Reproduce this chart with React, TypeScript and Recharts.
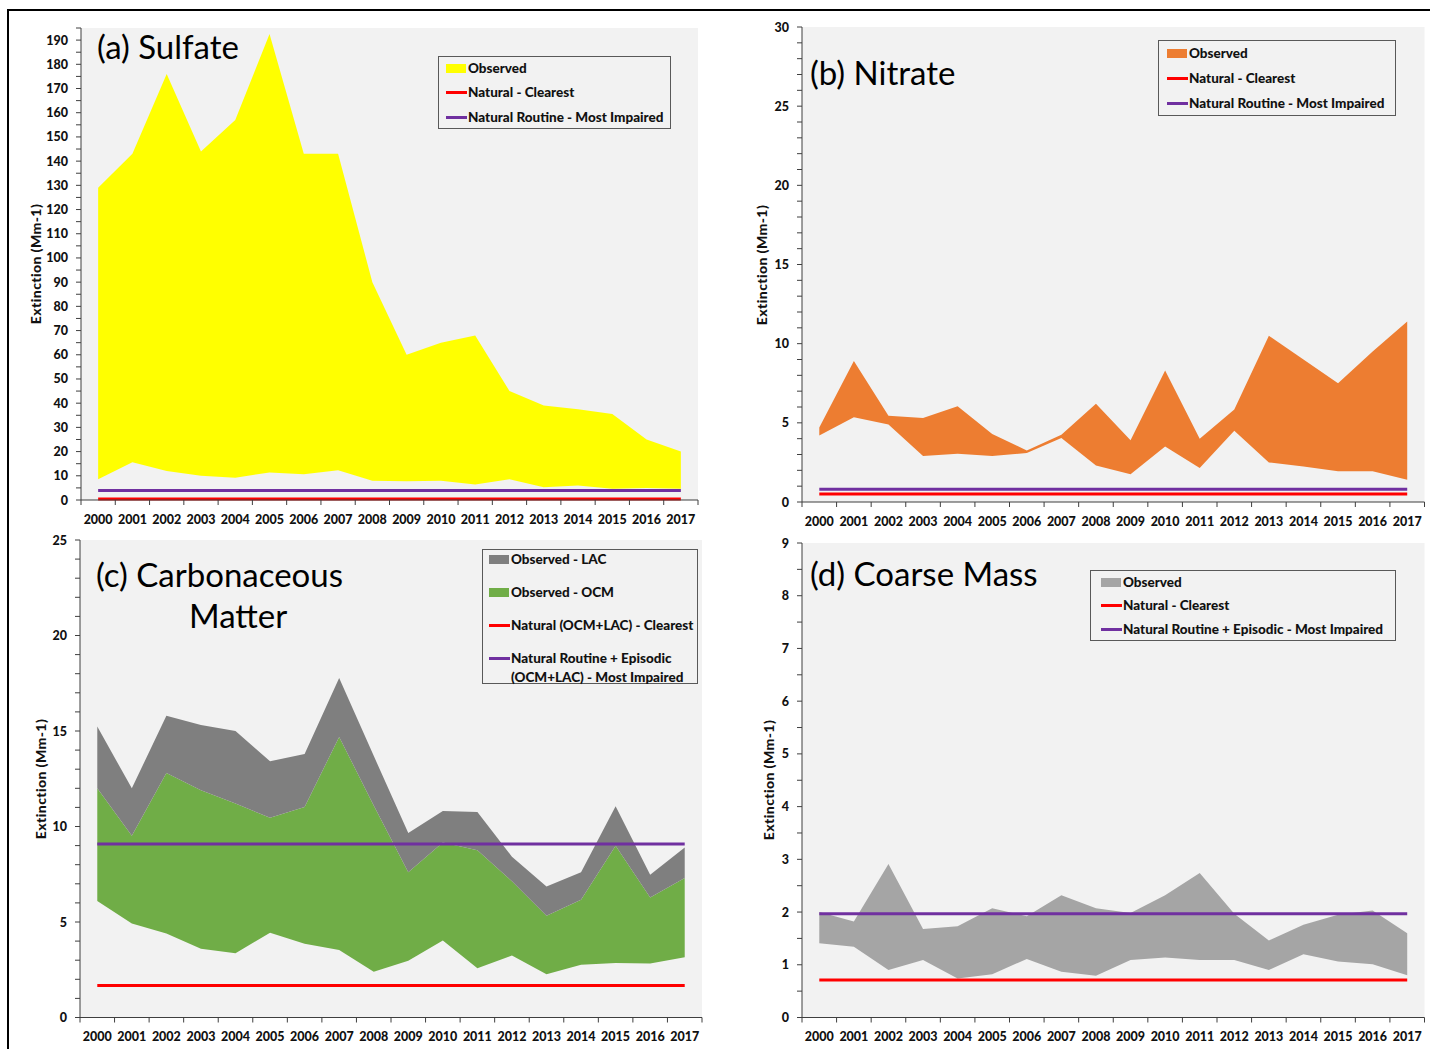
import React from 'react';
import { ComposedChart, Area, XAxis, YAxis, CartesianGrid, ReferenceLine } from 'recharts';

// categories
const years = [2000, 2001, 2002, 2003, 2004, 2005, 2006, 2007, 2008, 2009, 2010, 2011, 2012, 2013, 2014, 2015, 2016, 2017];

// (a) sulfate
const sulfateLow = [8.6, 15.6, 12, 10, 9.2, 11.4, 10.6, 12.3, 8, 7.7, 8, 6.4, 8.6, 5.3, 6, 4.6, 5, 4.6];
const sulfateHigh = [129, 143, 176, 144, 157, 192.5, 143, 143, 90, 60, 65, 68, 45, 39, 37.5, 35.5, 25, 20];
const sulfateClearest = 0.4;
const sulfateImpaired = 3.9;
const sulfateTicks = [0, 10, 20, 30, 40, 50, 60, 70, 80, 90, 100, 110, 120, 130, 140, 150, 160, 170, 180, 190];

// (b) nitrate
const nitrateLow = [4.2, 5.35, 4.9, 2.9, 3.05, 2.9, 3.1, 4.05, 2.3, 1.75, 3.5, 2.15, 4.5, 2.5, 2.25, 1.95, 1.95, 1.4];
const nitrateHigh = [4.7, 8.9, 5.45, 5.3, 6.05, 4.3, 3.25, 4.25, 6.2, 3.9, 8.3, 4.0, 5.85, 10.5, 9.0, 7.5, 9.5, 11.4];
const nitrateClearest = 0.5;
const nitrateImpaired = 0.8;
const nitrateTicks = [0, 5, 10, 15, 20, 25, 30];

// (c) carbonaceous matter
const ocmLow = [6.1, 4.92, 4.4, 3.6, 3.36, 4.44, 3.86, 3.54, 2.4, 2.97, 4.03, 2.58, 3.24, 2.26, 2.76, 2.85, 2.83, 3.15];
const ocmHigh = [12.0, 9.52, 12.8, 11.9, 11.2, 10.46, 11.02, 14.69, 11.1, 7.6, 9.16, 8.76, 7.13, 5.33, 6.16, 8.99, 6.28, 7.31];
const lacHigh = [15.23, 12.0, 15.8, 15.32, 15.0, 13.41, 13.8, 17.77, 13.7, 9.66, 10.81, 10.76, 8.42, 6.86, 7.61, 11.06, 7.48, 8.9];
const carbClearest = 1.68;
const carbImpaired = 9.08;
const carbTicks = [0, 5, 10, 15, 20, 25];

// (d) coarse mass
const coarseLow = [1.41, 1.34, 0.9, 1.09, 0.74, 0.82, 1.11, 0.87, 0.79, 1.09, 1.14, 1.09, 1.09, 0.9, 1.2, 1.06, 1.01, 0.8];
const coarseHigh = [2.0, 1.82, 2.91, 1.68, 1.73, 2.07, 1.92, 2.32, 2.07, 1.98, 2.32, 2.74, 1.97, 1.46, 1.76, 1.95, 2.03, 1.6];
const coarseClearest = 0.71;
const coarseImpaired = 1.97;
const coarseTicks = [0, 1, 2, 3, 4, 5, 6, 7, 8, 9];

const RED = '#ff0000';
const PURPLE = '#7030a0';
const AXIS = '#3f3f3f';
const FONT = 'Lato, "Open Sans", sans-serif';
const HEAVY = 900;

interface Band {
  key: string;
  low: number[];
  high: number[];
  color: string;
}

interface LegendItem {
  kind: 'rect' | 'line';
  color: string;
  label: string[];
  cy: number;
}

interface PanelProps {
  plotLeft: number;
  plotTop: number;
  plotRight: number;
  plotBottom: number;
  yMax: number;
  minorStep: number;
  majorTicks: number[];
  bands: Band[];
  clearest: number;
  impaired: number;
  yTitleX: number;
  title: React.ReactNode;
  legendBox: { left: number; top: number; right: number; bottom: number };
  swatchLeft: number;
  legendItems: LegendItem[];
}

const Panel: React.FC<PanelProps> = (p) => {
  const axisW = 80;
  const mTop = 10;
  const plotW = p.plotRight - p.plotLeft;
  const plotH = p.plotBottom - p.plotTop;
  const step = plotW / years.length;

  const rows = years.map((year, i) => {
    const row: Record<string, unknown> = { year };
    p.bands.forEach((b) => {
      row[b.key] = [b.low[i], b.high[i]];
    });
    return row;
  });

  const allTicks: number[] = [];
  for (let v = 0; v <= p.yMax + 1e-9; v += p.minorStep) allTicks.push(Math.round(v * 100) / 100);

  const XTick = (props: any) => {
    const { x, y, payload, index } = props;
    return (
      <g>
        <line x1={x - step / 2} x2={x - step / 2} y1={y} y2={y + 5} stroke={AXIS} />
        {index === years.length - 1 && (
          <line x1={x + step / 2} x2={x + step / 2} y1={y} y2={y + 5} stroke={AXIS} />
        )}
        <text x={x} y={y + 23.5} textAnchor="middle" fontFamily={FONT} fontWeight={HEAVY} fontSize={12.5} fill="#111">
          {payload.value}
        </text>
      </g>
    );
  };

  const YTick = (props: any) => {
    const { x, y, payload } = props;
    const isMajor = p.majorTicks.includes(payload.value);
    return (
      <g>
        <line x1={x - 5} x2={x} y1={y} y2={y} stroke={AXIS} />
        {isMajor && (
          <text x={x - 13} y={y + 4.5} textAnchor="end" fontFamily={FONT} fontWeight={HEAVY} fontSize={12.5} fill="#111">
            {payload.value}
          </text>
        )}
      </g>
    );
  };

  const lb = p.legendBox;

  return (
    <>
      <div style={{ position: 'absolute', left: p.plotLeft - axisW, top: p.plotTop - mTop }}>
        <ComposedChart
          width={plotW + axisW + 5}
          height={plotH + mTop + 30}
          data={rows}
          margin={{ top: mTop, right: 5, bottom: 0, left: 0 }}
        >
          <CartesianGrid fill="#f2f2f2" stroke="none" />
          <XAxis
            type="number"
            dataKey="year"
            domain={[years[0] - 0.5, years[years.length - 1] + 0.5]}
            ticks={years}
            interval={0}
            tickSize={0}
            tickMargin={0}
            height={30}
            tick={XTick}
            axisLine={{ stroke: AXIS }}
          />
          <YAxis
            type="number"
            domain={[0, p.yMax]}
            ticks={allTicks}
            interval={0}
            tickSize={0}
            tickMargin={0}
            width={axisW}
            tick={YTick}
            axisLine={{ stroke: AXIS }}
          />
          {p.bands.map((b) => (
            <Area
              key={b.key}
              type="linear"
              dataKey={b.key}
              fill={b.color}
              fillOpacity={1}
              stroke="none"
              dot={false}
              activeDot={false}
              isAnimationActive={false}
            />
          ))}
          <ReferenceLine
            segment={[{ x: years[0], y: p.clearest }, { x: years[years.length - 1], y: p.clearest }]}
            stroke={RED}
            strokeWidth={3}
          />
          <ReferenceLine
            segment={[{ x: years[0], y: p.impaired }, { x: years[years.length - 1], y: p.impaired }]}
            stroke={PURPLE}
            strokeWidth={3}
          />
        </ComposedChart>
      </div>

      <div
        style={{
          position: 'absolute',
          left: p.yTitleX,
          top: (p.plotTop + p.plotBottom) / 2,
          transform: 'translate(-50%, -50%) rotate(-90deg)',
          whiteSpace: 'nowrap',
          fontFamily: FONT,
          fontWeight: HEAVY,
          fontSize: 14,
          letterSpacing: 0.4,
          color: '#111',
        }}
      >
        Extinction (Mm-1)
      </div>

      {p.title}

      <div
        style={{
          position: 'absolute',
          left: lb.left,
          top: lb.top,
          width: lb.right - lb.left,
          height: lb.bottom - lb.top,
          boxSizing: 'border-box',
          border: '1.5px solid #595959',
          background: '#f2f2f2',
        }}
      />
      {p.legendItems.map((it, i) => (
        <React.Fragment key={i}>
          {it.kind === 'rect' ? (
            <div
              style={{
                position: 'absolute',
                left: p.swatchLeft,
                top: it.cy - 4.5,
                width: 20,
                height: 9,
                background: it.color,
              }}
            />
          ) : (
            <div
              style={{
                position: 'absolute',
                left: p.swatchLeft,
                top: it.cy - 1.5,
                width: 21,
                height: 3,
                background: it.color,
              }}
            />
          )}
          <div
            style={{
              position: 'absolute',
              left: p.swatchLeft + 22,
              top: it.cy - 9.5,
              fontFamily: FONT,
              fontWeight: HEAVY,
              fontSize: 13.5,
              lineHeight: '19px',
              color: '#111',
              whiteSpace: 'nowrap',
            }}
          >
            {it.label.map((l, j) => (
              <div key={j}>{l}</div>
            ))}
          </div>
        </React.Fragment>
      ))}
    </>
  );
};

const titleStyle = (left: number, cy: number): React.CSSProperties => ({
  position: 'absolute',
  left,
  top: cy - 17.5,
  fontFamily: FONT,
  fontSize: 33,
  lineHeight: '33px',
  color: '#000',
  whiteSpace: 'nowrap',
});

const App: React.FC = () => {
  return (
    <div
      style={{
        position: 'absolute',
        left: 0,
        top: 0,
        width: 1430,
        height: 1049,
        overflow: 'hidden',
        background: '#ffffff',
      }}
    >
      <div
        style={{
          position: 'absolute',
          left: 7,
          top: 9,
          width: 1460,
          height: 1080,
          border: '2px solid #000',
        }}
      />

      <Panel
        plotLeft={81}
        plotTop={28}
        plotRight={698}
        plotBottom={500}
        yMax={195}
        minorStep={5}
        majorTicks={sulfateTicks}
        bands={[{ key: 'observed', low: sulfateLow, high: sulfateHigh, color: '#ffff00' }]}
        clearest={sulfateClearest}
        impaired={sulfateImpaired}
        yTitleX={35}
        title={<div style={titleStyle(97, 47)}>(a) Sulfate</div>}
        legendBox={{ left: 438, top: 56, right: 671, bottom: 129 }}
        swatchLeft={446}
        legendItems={[
          { kind: 'rect', color: '#ffff00', label: ['Observed'], cy: 68 },
          { kind: 'line', color: RED, label: ['Natural - Clearest'], cy: 92 },
          { kind: 'line', color: PURPLE, label: ['Natural Routine - Most Impaired'], cy: 117 },
        ]}
      />

      <Panel
        plotLeft={801.5}
        plotTop={27}
        plotRight={1424}
        plotBottom={502}
        yMax={30}
        minorStep={1}
        majorTicks={nitrateTicks}
        bands={[{ key: 'observed', low: nitrateLow, high: nitrateHigh, color: '#ed7d31' }]}
        clearest={nitrateClearest}
        impaired={nitrateImpaired}
        yTitleX={761}
        title={<div style={titleStyle(810, 73)}>(b) Nitrate</div>}
        legendBox={{ left: 1158, top: 40, right: 1396, bottom: 116 }}
        swatchLeft={1167}
        legendItems={[
          { kind: 'rect', color: '#ed7d31', label: ['Observed'], cy: 53 },
          { kind: 'line', color: RED, label: ['Natural - Clearest'], cy: 78 },
          { kind: 'line', color: PURPLE, label: ['Natural Routine - Most Impaired'], cy: 103 },
        ]}
      />

      <Panel
        plotLeft={80}
        plotTop={540}
        plotRight={702}
        plotBottom={1017.5}
        yMax={25}
        minorStep={1}
        majorTicks={carbTicks}
        bands={[
          { key: 'ocm', low: ocmLow, high: ocmHigh, color: '#70ad47' },
          { key: 'lac', low: ocmHigh, high: lacHigh, color: '#7f7f7f' },
        ]}
        clearest={carbClearest}
        impaired={carbImpaired}
        yTitleX={40}
        title={
          <>
            <div style={titleStyle(96, 575)}>(c) Carbonaceous</div>
            <div style={titleStyle(189, 616)}>Matter</div>
          </>
        }
        legendBox={{ left: 482, top: 549, right: 698, bottom: 684 }}
        swatchLeft={489}
        legendItems={[
          { kind: 'rect', color: '#7f7f7f', label: ['Observed - LAC'], cy: 559 },
          { kind: 'rect', color: '#70ad47', label: ['Observed - OCM'], cy: 592 },
          { kind: 'line', color: RED, label: ['Natural (OCM+LAC) - Clearest'], cy: 625 },
          { kind: 'line', color: PURPLE, label: ['Natural Routine + Episodic', '(OCM+LAC) - Most Impaired'], cy: 658 },
        ]}
      />

      <Panel
        plotLeft={801.5}
        plotTop={543}
        plotRight={1424}
        plotBottom={1017.5}
        yMax={9}
        minorStep={0.5}
        majorTicks={coarseTicks}
        bands={[{ key: 'observed', low: coarseLow, high: coarseHigh, color: '#a5a5a5' }]}
        clearest={coarseClearest}
        impaired={coarseImpaired}
        yTitleX={767.5}
        title={<div style={titleStyle(810, 574)}>(d) Coarse Mass</div>}
        legendBox={{ left: 1090, top: 570, right: 1396, bottom: 641 }}
        swatchLeft={1101}
        legendItems={[
          { kind: 'rect', color: '#a5a5a5', label: ['Observed'], cy: 582 },
          { kind: 'line', color: RED, label: ['Natural - Clearest'], cy: 605.5 },
          { kind: 'line', color: PURPLE, label: ['Natural Routine + Episodic - Most Impaired'], cy: 629 },
        ]}
      />
    </div>
  );
};

export default App;
